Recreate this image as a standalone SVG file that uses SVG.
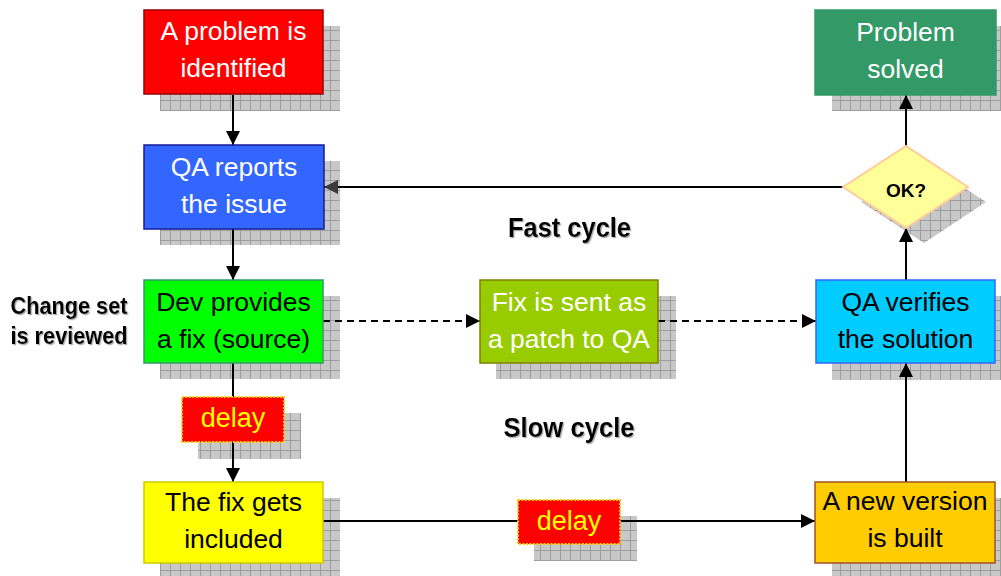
<svg xmlns="http://www.w3.org/2000/svg" width="1001" height="576" viewBox="0 0 1001 576">
  <defs>
    <!-- grey hatched drop shadow -->
    <pattern id="grid" width="10" height="10" patternUnits="userSpaceOnUse">
      <rect width="10" height="10" fill="#c8c8c8"/>
      <path d="M0,0.5 H10 M0.5,0 V10" stroke="#9e9e9e" stroke-width="1" fill="none"/>
    </pattern>
    <marker id="arrow" markerWidth="16" markerHeight="16" refX="14" refY="7" orient="auto" markerUnits="userSpaceOnUse">
      <path d="M0,0 L14,7 L0,14 z" fill="#000"/>
    </marker>
    <marker id="arrow-dim" markerWidth="16" markerHeight="16" refX="14" refY="7" orient="auto" markerUnits="userSpaceOnUse">
      <path d="M0,0 L14,7 L0,14 z" fill="#3a3a3a"/>
    </marker>
    <filter id="tshadow" x="-10%" y="-20%" width="130%" height="150%">
      <feDropShadow dx="1.2" dy="1.2" stdDeviation="0.5" flood-color="#888" flood-opacity="0.7"/>
    </filter>
  </defs>
  <style>
    .shadow { fill: url(#grid); }
    .box { stroke-width: 1.5; }
    .t { font-family: "Liberation Sans", Arial, sans-serif; font-size: 26.5px; text-anchor: middle; }
    .w { fill: #ffffff; }
    .k { fill: #000000; }
    .lbl { font-family: "Liberation Sans", Arial, sans-serif; font-weight: bold; fill: #000; text-anchor: middle; filter: url(#tshadow); }
    .line { stroke: #000; stroke-width: 2; fill: none; marker-end: url(#arrow); }
    .dash { stroke-dasharray: 7 5; }
    .delay { fill: #ff0000; stroke: #ffcc00; stroke-width: 2; stroke-dasharray: 2 1.5; }
    .dt { font-family: "Liberation Sans", Arial, sans-serif; font-size: 27px; fill: #ffff00; text-anchor: middle; }
  </style>

  <rect width="1001" height="576" fill="#ffffff"/>

  <!-- shadows sit beneath the connectors -->
  <g id="shadows">
    <rect class="shadow" x="160" y="26" width="180" height="85"/>
    <rect class="shadow" x="160" y="161" width="180" height="84"/>
    <rect class="shadow" x="160" y="296" width="180" height="83"/>
    <rect class="shadow" x="496" y="296" width="180" height="83"/>
    <rect class="shadow" x="832" y="296" width="180" height="84"/>
    <rect class="shadow" x="832" y="26" width="180" height="85"/>
    <rect class="shadow" x="160" y="498" width="180" height="82"/>
    <rect class="shadow" x="832" y="498" width="180" height="82"/>
    <rect class="shadow" x="198" y="413" width="103" height="46"/>
    <rect class="shadow" x="534" y="516" width="103" height="45"/>
    <polygon class="shadow" points="861,202 924,161 986,202 924,243"/>
  </g>

  <g id="connectors">
    <line class="line" x1="233" y1="95" x2="233" y2="145"/>
    <line class="line" x1="233" y1="229" x2="233" y2="280"/>
    <line class="line" x1="233" y1="363" x2="233" y2="482"/>
    <line class="line" x1="323" y1="521" x2="815" y2="521"/>
    <line class="line" x1="906" y1="482" x2="906" y2="363"/>
    <line class="line" x1="906" y1="280" x2="906" y2="228"/>
    <line class="line" x1="906" y1="146" x2="906" y2="95"/>
    <line class="line" x1="843" y1="187" x2="324" y2="187" style="marker-end:url(#arrow-dim)"/>
    <line class="line dash" x1="323" y1="321" x2="480" y2="321"/>
    <line class="line dash" x1="658" y1="321" x2="816" y2="321"/>
  </g>

  <g id="problem-identified">
    <rect class="box" x="144" y="10" width="179" height="84" fill="#ff0000" stroke="#990000"/>
    <text class="t w" x="233.5" y="40">A problem is</text>
    <text class="t w" x="233.5" y="77">identified</text>
  </g>

  <g id="qa-reports">
    <rect class="box" x="144" y="145" width="180" height="84" fill="#3366ff" stroke="#1a1a99"/>
    <text class="t w" x="234" y="176">QA reports</text>
    <text class="t w" x="234" y="213">the issue</text>
  </g>

  <g id="dev-fix">
    <rect class="box" x="144" y="280" width="179" height="83" fill="#00ff00" stroke="#339966"/>
    <text class="t k" x="233.5" y="311">Dev provides</text>
    <text class="t k" x="233.5" y="348">a fix (source)</text>
  </g>

  <g id="patch-to-qa">
    <rect class="box" x="480" y="280" width="178" height="83" fill="#99cc00" stroke="#808000"/>
    <text class="t w" x="569" y="311">Fix is sent as</text>
    <text class="t w" x="569" y="348">a patch to QA</text>
  </g>

  <g id="qa-verifies">
    <rect class="box" x="816" y="280" width="179" height="83" fill="#00ccff" stroke="#3366ff"/>
    <text class="t k" x="905.5" y="311">QA verifies</text>
    <text class="t k" x="905.5" y="348">the solution</text>
  </g>

  <g id="problem-solved">
    <rect class="box" x="815" y="10" width="181" height="85" fill="#339966" stroke="#339966"/>
    <text class="t w" x="905.5" y="41">Problem</text>
    <text class="t w" x="905.5" y="78">solved</text>
  </g>

  <g id="ok-check">
    <polygon points="843,187 906,146 968,187 906,228" fill="#ffff99" stroke="#ffcc99" stroke-width="2"/>
    <text x="906" y="197" font-family="Liberation Sans, Arial, sans-serif" font-weight="bold" font-size="19" text-anchor="middle" fill="#000">OK?</text>
  </g>

  <g id="fix-included">
    <rect class="box" x="144" y="482" width="179" height="81" fill="#ffff00" stroke="#cccc00"/>
    <text class="t k" x="233.5" y="511">The fix gets</text>
    <text class="t k" x="233.5" y="548">included</text>
  </g>

  <g id="new-version">
    <rect class="box" x="815" y="482" width="180" height="81" fill="#ffcc00" stroke="#a0522d"/>
    <text class="t k" x="905" y="510">A new version</text>
    <text class="t k" x="905" y="547">is built</text>
  </g>

  <g id="delay-review">
    <rect class="delay" x="182" y="397" width="102" height="45"/>
    <text class="dt" x="233" y="427">delay</text>
  </g>

  <g id="delay-build">
    <rect class="delay" x="518" y="500" width="102" height="44"/>
    <text class="dt" x="569" y="530">delay</text>
  </g>

  <g id="labels">
    <text class="lbl" x="569.5" y="237" font-size="27" textLength="123" lengthAdjust="spacingAndGlyphs">Fast cycle</text>
    <text class="lbl" x="569" y="437" font-size="27" textLength="131" lengthAdjust="spacingAndGlyphs">Slow cycle</text>
    <text class="lbl" x="69" y="314" font-size="24" textLength="117" lengthAdjust="spacingAndGlyphs">Change set</text>
    <text class="lbl" x="69" y="344" font-size="24" textLength="117" lengthAdjust="spacingAndGlyphs">is reviewed</text>
  </g>
</svg>
